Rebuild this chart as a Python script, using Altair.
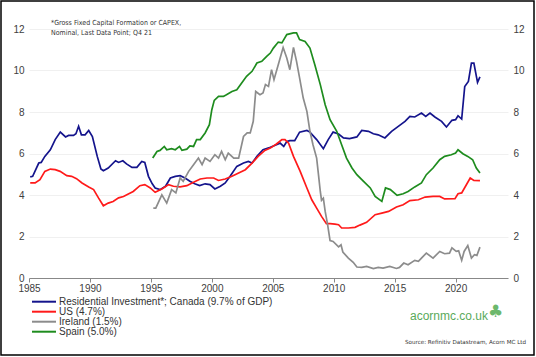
import altair as alt
import pandas as pd

# ---- data ----
canada_x = [1985.1, 1985.3, 1985.8, 1986.0, 1986.3, 1986.75, 1987.15, 1987.57, 1988.0, 1988.25, 1988.65, 1988.85,
            1989.07, 1989.3, 1989.6, 1989.9, 1990.2, 1990.6, 1990.9, 1991.1, 1991.5, 1992.1, 1992.35, 1992.7,
            1993.0, 1993.45, 1993.85, 1994.25, 1994.5, 1994.8, 1995.1, 1995.35, 1995.75, 1996.2, 1996.6, 1997.0,
            1997.4, 1997.8, 1998.2, 1998.6, 1999.0, 1999.45, 1999.85, 2000.25, 2000.7, 2001.1, 2001.5, 2002.05,
            2002.6, 2003.0, 2003.3, 2003.7, 2004.2, 2004.8, 2005.3, 2005.6, 2005.9, 2006.15, 2006.4, 2006.8,
            2007.2, 2007.8, 2008.05, 2008.6, 2009.15, 2009.55, 2009.95, 2010.4, 2010.8, 2011.3, 2011.9, 2012.3,
            2012.85, 2013.25, 2013.65, 2014.2, 2014.75, 2015.3, 2015.85, 2016.25, 2016.65, 2017.2, 2017.55,
            2017.9, 2018.3, 2018.85, 2019.25, 2019.7, 2020.0, 2020.2, 2020.5, 2020.75, 2021.05, 2021.3, 2021.5,
            2021.8, 2022.0]
canada_y = [4.87, 4.9, 5.54, 5.57, 5.86, 6.18, 6.67, 7.03, 6.8, 6.87, 6.87, 6.95,
            7.31, 6.9, 6.9, 7.11, 6.82, 5.86, 5.25, 5.17, 5.3, 5.65, 5.57, 5.65,
            5.5, 5.33, 5.33, 5.62, 5.57, 4.9, 4.55, 4.34, 4.26, 4.42, 4.82, 4.9,
            4.93, 4.82, 4.66, 4.54, 4.45, 4.54, 4.5, 4.29, 4.42, 4.58, 4.9, 5.38,
            5.54, 5.62, 5.54, 5.86, 6.18, 6.3, 6.42, 6.5, 6.34, 6.58, 6.62, 6.62,
            7.03, 7.11, 7.03, 6.67, 6.23, 6.67, 7.03, 6.94, 6.75, 6.72, 6.8, 7.11,
            7.07, 6.95, 6.9, 6.75, 7.07, 7.31, 7.55, 7.79, 7.76, 7.95, 7.79,
            7.95, 7.76, 7.55, 7.28, 7.6, 7.63, 7.82, 7.66, 9.23, 9.47, 10.36, 10.36,
            9.43, 9.69]

us_x = [1985.1, 1985.5, 1985.9, 1986.3, 1986.75, 1987.15, 1987.55, 1988.1, 1988.5, 1988.9, 1989.35, 1989.9,
        1990.3, 1990.7, 1991.1, 1991.5, 1991.9, 1992.35, 1992.75, 1993.15, 1993.55, 1994.1, 1994.5, 1994.95,
        1995.35, 1995.9, 1996.45, 1996.85, 1997.4, 1997.95, 1998.5, 1999.05, 1999.6, 2000.15, 2000.55, 2001.1,
        2001.65, 2002.2, 2002.75, 2003.3, 2003.8, 2004.35, 2004.8, 2005.3, 2005.75, 2006.0, 2006.3, 2006.7,
        2007.25, 2007.8, 2008.2, 2008.6, 2009.0, 2009.4, 2009.7, 2010.1, 2010.4, 2010.65, 2011.2, 2011.75,
        2012.15, 2012.7, 2013.4, 2013.95, 2014.5, 2015.15, 2015.7, 2016.25, 2016.95, 2017.5, 2018.15, 2018.7,
        2019.1, 2019.95, 2020.2, 2020.5, 2021.2, 2021.5, 2022.0]
us_y = [4.58, 4.58, 4.74, 5.14, 5.25, 5.22, 5.14, 4.93, 4.9, 4.79, 4.58, 4.39,
        4.26, 3.86, 3.48, 3.61, 3.69, 3.86, 3.93, 4.05, 4.17, 4.45, 4.5, 4.34,
        4.13, 4.29, 4.5, 4.42, 4.39, 4.45, 4.61, 4.77, 4.82, 4.82, 4.7, 4.77,
        4.9, 5.06, 5.22, 5.54, 5.86, 6.15, 6.26, 6.46, 6.67, 6.67, 6.5, 5.86,
        5.14, 4.34, 3.77, 3.37, 2.97, 2.62, 2.62, 2.6, 2.57, 2.41, 2.41, 2.44,
        2.55, 2.68, 3.05, 3.13, 3.21, 3.42, 3.53, 3.73, 3.77, 3.9, 3.93, 3.93,
        3.81, 3.82, 4.06, 4.1, 4.82, 4.7, 4.69]

ireland_x = [1995.2, 1995.4, 1995.9, 1996.3, 1996.7, 1997.05, 1997.4, 1997.65, 1998.1, 1998.5, 1998.9, 1999.2,
             1999.45, 1999.85, 2000.25, 2000.55, 2000.8, 2001.1, 2001.35, 2001.8, 2002.2, 2002.6, 2002.9, 2003.15,
             2003.4, 2003.6, 2003.95, 2004.2, 2004.4, 2004.65, 2004.9, 2005.1, 2005.45, 2005.85, 2006.15, 2006.4,
             2006.7, 2006.95, 2007.2, 2007.5, 2007.8, 2008.05, 2008.3, 2008.6, 2008.75, 2008.9, 2009.0, 2009.15,
             2009.3, 2009.5, 2009.7, 2009.95, 2010.4, 2010.6, 2010.75, 2011.2, 2011.6, 2011.9, 2012.3, 2012.7,
             2013.25, 2013.65, 2014.05, 2014.6, 2015.15, 2015.4, 2015.75, 2016.1, 2016.65, 2016.95, 2017.2, 2017.6,
             2018.15, 2018.7, 2019.1, 2019.5, 2019.7, 2020.05, 2020.25, 2020.5, 2020.7, 2021.0, 2021.3, 2021.55,
             2021.75, 2022.0]
ireland_y = [3.37, 3.37, 4.01, 3.61, 4.26, 4.1, 4.82, 4.66, 5.14, 5.46, 5.78, 5.46,
             5.78, 5.62, 5.94, 5.78, 6.1, 5.7, 6.02, 5.78, 5.78, 6.82, 6.99, 6.99,
             7.55, 8.99, 8.83, 8.92, 9.32, 9.23, 10.04, 9.56, 10.28, 11.11, 10.6, 10.04,
             11.11, 10.44, 9.64, 8.67, 8.03, 7.07, 6.42, 5.78, 4.98, 4.17, 3.75, 3.85,
             3.21, 2.57, 1.8, 1.76, 1.5, 1.6, 1.25, 0.96, 0.76, 0.53, 0.51, 0.56,
             0.45, 0.51, 0.48, 0.56, 0.46, 0.51, 0.72, 0.64, 0.85, 0.8, 0.96, 1.2,
             0.96, 1.28, 1.17, 1.2, 1.45, 1.28, 1.31, 0.85, 1.28, 1.56, 0.96, 1.12,
             1.09, 1.49]

spain_x = [1995.15, 1995.5, 1995.75, 1996.1, 1996.3, 1996.7, 1997.0, 1997.35, 1997.55, 1997.95, 1998.2, 1998.5,
           1998.75, 1999.05, 1999.45, 1999.8, 2000.0, 2000.2, 2000.55, 2000.95, 2001.2, 2001.65, 2002.05, 2002.45,
           2002.85, 2003.3, 2003.7, 2004.1, 2004.5, 2004.8, 2005.05, 2005.45, 2005.75, 2006.15, 2006.7, 2006.95,
           2007.2, 2007.65, 2008.05, 2008.45, 2008.9, 2009.3, 2009.7, 2010.25, 2010.65, 2011.05, 2011.5, 2011.9,
           2012.45, 2013.0, 2013.4, 2013.95, 2014.25, 2014.65, 2015.2, 2015.7, 2016.1, 2016.65, 2017.2, 2017.6,
           2018.15, 2018.7, 2019.1, 2019.65, 2020.0, 2020.2, 2020.6, 2021.0, 2021.4, 2021.7, 2022.0]
spain_y = [5.78, 6.1, 6.15, 6.34, 6.18, 6.23, 6.18, 6.34, 6.15, 6.21, 6.37, 6.34,
           6.67, 6.67, 6.99, 7.39, 8.11, 8.56, 8.75, 8.75, 8.83, 8.99, 9.07, 9.4,
           9.72, 9.96, 10.36, 10.44, 10.68, 10.84, 11.08, 11.37, 11.33, 11.73, 11.81, 11.81,
           11.49, 11.4, 11.08, 10.28, 9.32, 8.35, 7.63, 7.07, 6.42, 5.78, 5.3, 4.98,
           4.66, 4.34, 3.93, 3.69, 4.34, 4.26, 3.98, 4.06, 4.17, 4.39, 4.58, 4.98,
           5.3, 5.7, 5.86, 5.94, 6.02, 6.18, 5.99, 5.86, 5.7, 5.3, 5.06]

series_names = ["Residential Investment*; Canada (9.7% of GDP)", "US (4.7%)", "Ireland (1.5%)", "Spain (5.0%)"]
series_colors = ["#14148c", "#ff1a1a", "#8c8c8c", "#1e8c1e"]
x_ticks = [1985, 1990, 1995, 2000, 2005, 2010, 2015, 2020]
y_ticks = [0, 2, 4, 6, 8, 10, 12]

note_text = "*Gross Fixed Capital Formation or CAPEX,\nNominal, Last Data Point; Q4 21"
logo_text = "acornmc.co.uk"
logo_icon = "\u2663"
source_text = "Source: Refinitiv Datastream, Acorn MC Ltd"

# ---- build tables ----
rows = []
for name, xs, ys in zip(series_names, [canada_x, us_x, ireland_x, spain_x], [canada_y, us_y, ireland_y, spain_y]):
    for i, (a, b) in enumerate(zip(xs, ys)):
        rows.append({"series": name, "year": a, "value": b, "order": i})
df = pd.DataFrame(rows)
leg_df = pd.DataFrame({"series": series_names, "row": list(range(len(series_names)))})

W, H = 479, 249

xscale = alt.Scale(domain=[1985, 2024.3], nice=False, zero=False)
yscale = alt.Scale(domain=[0, 12], nice=False)
color_enc = alt.Color("series:N", scale=alt.Scale(domain=series_names, range=series_colors), legend=None)

lines = alt.Chart(df).mark_line(strokeWidth=1.7, clip=False).encode(
    x=alt.X("year:Q", scale=xscale, title=None,
            axis=alt.Axis(values=x_ticks, format="d", grid=False, domainColor="#888888",
                          tickColor="#888888", tickSize=4, labelPadding=1, labelFontSize=10,
                          labelColor="#404040", labelFont="Liberation Sans", labelFlush=False)),
    y=alt.Y("value:Q", scale=yscale, title=None,
            axis=alt.Axis(values=y_ticks, orient="left", domain=False, ticks=False, grid=True,
                          gridColor="#f0f0f0", labelPadding=5, labelFontSize=10,
                          labelColor="#404040", labelFont="Liberation Sans")),
    color=color_enc,
    order="order:Q",
)

right_axis = alt.Chart(df).mark_point(opacity=0).encode(
    x=alt.X("year:Q", scale=xscale),
    y=alt.Y("value:Q", scale=yscale,
            axis=alt.Axis(values=y_ticks, orient="right", domain=False, ticks=False, grid=False,
                          labelPadding=5, labelFontSize=10, labelColor="#404040",
                          labelFont="Liberation Sans", title=None)),
)

leg_y = alt.Y("row:Q", scale=alt.Scale(domain=[0, 3], range=[272.7, 302.7]), axis=None)
leg_lines = alt.Chart(leg_df).mark_rule(strokeWidth=2).encode(
    x=alt.value(3), x2=alt.value(27), y=leg_y, color=color_enc
)
leg_text = alt.Chart(leg_df).mark_text(
    align="left", baseline="middle", fontSize=10, font="Liberation Sans", color="#333333"
).encode(x=alt.value(30), y=leg_y, text="series:N")

note = alt.Chart(pd.DataFrame({"t": [note_text]})).mark_text(
    align="left", baseline="middle", fontSize=7, font="DejaVu Sans Condensed", color="#333333",
    lineBreak="\n", lineHeight=10
).encode(text="t:N", x=alt.value(22), y=alt.value(-6))

logo = alt.Chart(pd.DataFrame({"t": [logo_text]})).mark_text(
    align="left", baseline="middle", fontSize=12, font="Liberation Sans", color="#5aaa5a"
).encode(text="t:N", x=alt.value(381), y=alt.value(287))

icon = alt.Chart(pd.DataFrame({"t": [logo_icon]})).mark_text(
    align="left", baseline="middle", fontSize=17, font="DejaVu Sans", color="#6cb86c"
).encode(text="t:N", x=alt.value(459), y=alt.value(283))

source = alt.Chart(pd.DataFrame({"t": [source_text]})).mark_text(
    align="left", baseline="middle", fontSize=5.6, font="DejaVu Sans", color="#333333"
).encode(text="t:N", x=alt.value(376), y=alt.value(313))

frame = alt.Chart(pd.DataFrame({"t": [0]})).mark_rect(
    fill=None, stroke="#000000", strokeWidth=1.5
).encode(x=alt.value(-28), x2=alt.value(505), y=alt.value(-28), y2=alt.value(326))

chart = alt.layer(lines, right_axis, leg_lines, leg_text, note, logo, icon, source, frame).resolve_scale(
    y="independent"
).resolve_axis(
    y="independent"
).properties(
    width=W, height=H,
    autosize=alt.AutoSizeParams(type="none"),
    padding={"left": 29, "top": 29, "right": 28, "bottom": 79},
    background="white",
).configure_view(stroke=None)

chart.save("out.html", embed_options={"renderer": "svg", "actions": False})
